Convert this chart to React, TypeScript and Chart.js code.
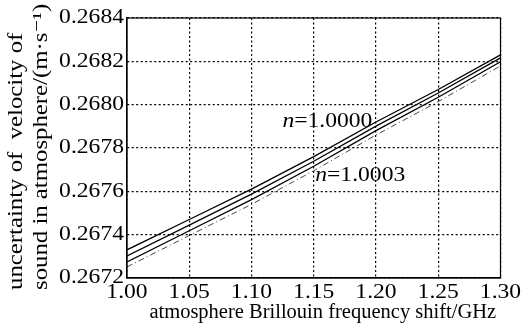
import React, { useEffect, useRef } from "react";
import { Chart, registerables } from "chart.js";

Chart.register(...registerables);

const xs = [1.0, 1.05, 1.1, 1.15, 1.2, 1.25, 1.3];
const n10000 = [0.26733, 0.26747, 0.26761, 0.26776, 0.26792, 0.26807, 0.26823];
const n10001 = [0.267302, 0.267444, 0.267587, 0.267739, 0.267901, 0.268054, 0.268216];
const n10002 = [0.267274, 0.267418, 0.267562, 0.267716, 0.26788, 0.268034, 0.268198];
const n10003 = [0.267251, 0.267396, 0.26754, 0.267695, 0.26786, 0.268014, 0.268179];

const labelTexts = ["1.0000", "1.0003"];
const labelX = [1.1248, 1.1512];
const labelY = [0.26792, 0.26767];

const xTitle = "atmosphere Brillouin frequency shift/GHz";
const yTitle = ["uncertainty of  velocity of", "sound in atmosphere/(m\u00b7s\u207b\u00b9)"];

const FONT = "'Liberation Serif', 'DejaVu Serif', serif";
const STRETCH = 1.18;

export default function App() {
  const ref = useRef<HTMLCanvasElement | null>(null);
  useEffect(() => {
    if (!ref.current) return;
    const mk = (ys: number[]) => xs.map((x, i) => ({ x, y: ys[i] }));
    const textPlugin = {
      id: "stretchText",
      beforeDraw(chart: any) {
        const ctx = chart.ctx;
        if (!ctx.__origFill) {
          ctx.__origFill = ctx.fillText;
          ctx.fillText = function (text: string, x: number, y: number, maxWidth?: number) {
            const s = ctx.__noStretch ? 1 : STRETCH;
            this.save();
            this.translate(x, y);
            this.scale(s, 1);
            if (maxWidth !== undefined && maxWidth !== null) ctx.__origFill.call(this, text, 0, 0, maxWidth / s);
            else ctx.__origFill.call(this, text, 0, 0);
            this.restore();
          };
        }
      },
      afterDatasetsDraw(chart: any) {
        const { ctx, chartArea: a, scales } = chart;
        ctx.save();
        ctx.strokeStyle = "#000";
        ctx.lineWidth = 1.2;
        ctx.setLineDash([]);
        ctx.strokeRect(a.left, a.top, a.right - a.left, a.bottom - a.top);
        ctx.fillStyle = "#000";
        ctx.textBaseline = "middle";
        ctx.textAlign = "left";
        for (let i = 0; i < labelTexts.length; i++) {
          const px = scales.x.getPixelForValue(labelX[i]);
          const py = scales.y.getPixelForValue(labelY[i]);
          ctx.font = "italic 20px " + FONT;
          ctx.fillText("n", px, py);
          const w = ctx.measureText("n").width * STRETCH;
          ctx.font = "20px " + FONT;
          ctx.fillText("=" + labelTexts[i], px + w, py);
        }
        // y axis title (two lines, start-aligned at the bottom)
        ctx.font = "21px " + FONT;
        const colX = [16, 41];
        for (let i = 0; i < yTitle.length; i++) {
          ctx.save();
          ctx.translate(colX[i], a.bottom + 12);
          ctx.rotate(-Math.PI / 2);
          ctx.fillText(yTitle[i], 0, 0);
          ctx.restore();
        }
        // x axis title
        ctx.__noStretch = true;
        ctx.font = "20.5px " + FONT;
        ctx.textAlign = "center";
        ctx.fillText(xTitle, (a.left + a.right) / 2 + 9, a.bottom + 35);
        ctx.__noStretch = false;
        ctx.restore();
      },
    };
    const chart = new Chart(ref.current, {
      type: "line",
      data: {
        datasets: [
          { data: mk(n10000), borderColor: "#000", borderWidth: 1.3, pointRadius: 0, fill: false },
          { data: mk(n10001), borderColor: "#000", borderWidth: 1.3, pointRadius: 0, fill: false },
          { data: mk(n10002), borderColor: "#000", borderWidth: 1.3, pointRadius: 0, fill: false },
          { data: mk(n10003), borderColor: "#333", borderWidth: 0.9, borderDash: [6, 3, 1, 3], pointRadius: 0, fill: false },
        ],
      },
      options: {
        animation: false,
        responsive: true,
        maintainAspectRatio: false,
        layout: { padding: { top: 18, right: 19, left: 0, bottom: 0 } },
        plugins: { legend: { display: false }, tooltip: { enabled: false } },
        scales: {
          x: {
            type: "linear",
            min: 1.0,
            max: 1.3,
            ticks: {
              stepSize: 0.05,
              color: "#000",
              font: { family: FONT, size: 20 },
              padding: 3,
              maxRotation: 0,
              callback: (v: any) => Number(v).toFixed(2),
            },
            grid: { color: "#000", lineWidth: 1.2, drawTicks: false },
            border: { display: true, color: "#000", width: 1.2, dash: [2, 2.5] },
            title: { display: false },
            afterFit: (s: any) => { s.height = 54; },
          },
          y: {
            type: "linear",
            min: 0.2672,
            max: 0.2684,
            ticks: {
              stepSize: 0.0002,
              color: "#000",
              font: { family: FONT, size: 20 },
              padding: 3,
              callback: (v: any) => Number(v).toFixed(4),
            },
            grid: { color: "#000", lineWidth: 1.2, drawTicks: false },
            border: { display: true, color: "#000", width: 1.2, dash: [2, 2.5] },
            title: { display: false },
            afterFit: (s: any) => { s.width = 127; },
          },
        },
      },
      plugins: [textPlugin],
    } as any);
    return () => chart.destroy();
  }, []);
  return (
    <div style={{ position: "absolute", left: 0, top: 0, width: 521, height: 332, background: "#fff" }}>
      <canvas ref={ref} />
    </div>
  );
}
